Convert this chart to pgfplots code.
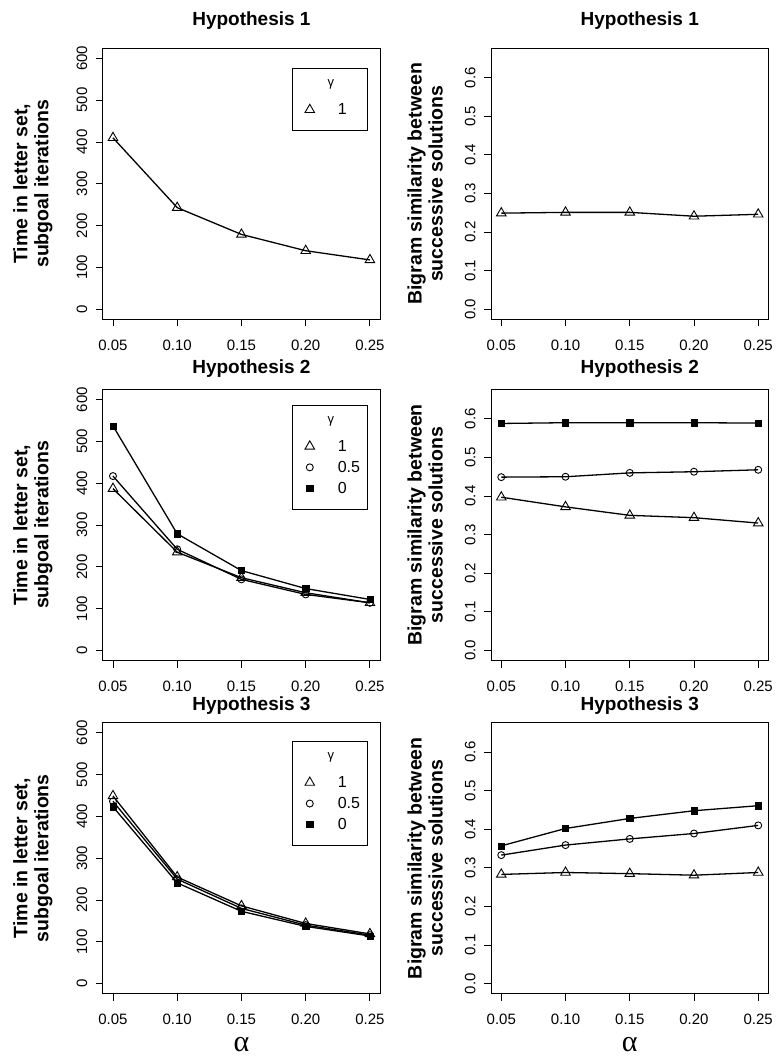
\documentclass[border=0pt]{standalone}
\usepackage{fontspec}
\setmainfont{Liberation Sans}
\newfontfamily\timesfont{Liberation Serif}
\usepackage{pgfplots}
\pgfplotsset{compat=1.18}

\tikzset{
  tri/.style={black, line width=1.3pt, mark=triangle, mark size=5.5pt, mark options={solid, line width=0.9pt}},
  circ/.style={black, line width=1.3pt, mark=o, mark size=3.5pt, mark options={solid, line width=0.9pt}},
  sq/.style={black, line width=1.3pt, mark=square*, mark size=3.1pt, mark options={solid, line width=0.4pt}},
}
\pgfplotsset{
  hyp/.style={
    scale only axis, width=277.5pt, height=271pt,
    xmin=0.042, xmax=0.258,
    xtick={0.05,0.10,0.15,0.20,0.25},
    xticklabels={0.05,0.10,0.15,0.20,0.25},
    tick align=outside, tick pos=left, major tick length=7pt,
    tick label style={font=\fontsize{15}{18}\selectfont},
    xticklabel style={yshift=-10pt},
    yticklabel style={xshift=-5pt, rotate=90, anchor=south},
    axis line style={line width=0.9pt},
    every tick/.style={black, line width=0.9pt},
    title style={font=\bfseries\fontsize{19}{22}\selectfont, anchor=base},
    ylabel style={font=\bfseries\fontsize{19.5}{21}\selectfont, align=center, anchor=center},
    xlabel style={font=\timesfont\fontsize{30}{30}\selectfont, anchor=center, at={(axis description cs:0.5,-0.187)}},
    legend cell align=left,
    legend style={draw=black, line width=0.8pt, inner xsep=0pt, inner ysep=0pt, row sep=0pt, column sep=0pt,
      anchor=north east, font=\fontsize{16}{18}\selectfont,
      nodes={draw=none, inner sep=0pt, text width=30pt}},
    legend image code/.code={\path[draw=none, fill=none] (0pt,-10.5pt) rectangle (45pt,10.5pt);
      \draw[##1, only marks] plot coordinates {(17pt,0pt)};},
  },
  hleft/.style={ymin=-24, ymax=624, ytick={0,100,200,300,400,500,600},
    yticklabels={0,100,200,300,400,500,600},
    ylabel={Time in letter set,\\subgoal iterations},
    ylabel style={at={(axis description cs:-0.252,0.5)}}},
  hright/.style={ymin=-0.026, ymax=0.676, ytick={0,0.1,0.2,0.3,0.4,0.5,0.6},
    yticklabels={0.0,0.1,0.2,0.3,0.4,0.5,0.6},
    ylabel={Bigram similarity between\\successive solutions},
    ylabel style={at={(axis description cs:-0.237,0.5)}}},
}
\newcommand{\legtitle}{%
  \addlegendimage{legend image code/.code={\path[draw=none, fill=none] (0pt,-15.5pt) rectangle (45pt,15pt);}}
  \addlegendentry{\llap{\makebox[14pt]{\fontsize{13}{13}\selectfont γ}}}}
\newcommand{\legpad}{%
  \addlegendimage{legend image code/.code={\path[draw=none, fill=none] (0pt,0pt) rectangle (45pt,-9.5pt);}}
  \addlegendentry{\rule{0pt}{0pt}}}

\begin{document}
\begin{tikzpicture}
\path[use as bounding box] (0,0) rectangle (777pt,-1059pt);

% row 1
\begin{axis}[hyp, hleft, at={(102.7pt,-48.3pt)}, anchor=north west,
  title={Hypothesis 1}, title style={at={(axis description cs:0.536,1.0635)}},
  legend style={at={(axis description cs:0.9567,0.926)}}]
\legtitle
\addplot[tri] coordinates {(0.05,410) (0.10,243) (0.15,179) (0.20,140) (0.25,118)};
\addlegendentry{1}
\legpad
\end{axis}

\begin{axis}[hyp, hright, at={(491pt,-48.3pt)}, anchor=north west,
  title={Hypothesis 1}, title style={at={(axis description cs:0.536,1.0635)}}]
\addplot[tri] coordinates {(0.05,0.249) (0.10,0.251) (0.15,0.251) (0.20,0.241) (0.25,0.246)};
\end{axis}

% row 2
\begin{axis}[hyp, hleft, at={(102.7pt,-389.5pt)}, anchor=north west,
  title={Hypothesis 2}, title style={at={(axis description cs:0.536,1.0358)}},
  legend style={at={(axis description cs:0.9567,0.943)}}]
\legtitle
\addplot[tri] coordinates {(0.05,387) (0.10,235) (0.15,174) (0.20,138) (0.25,114)};
\addlegendentry{1}
\addplot[circ] coordinates {(0.05,417) (0.10,242) (0.15,170) (0.20,134) (0.25,114)};
\addlegendentry{0.5}
\addplot[sq] coordinates {(0.05,537) (0.10,279) (0.15,191) (0.20,148) (0.25,122)};
\addlegendentry{0}
\legpad
\end{axis}

\begin{axis}[hyp, hright, at={(491pt,-389.5pt)}, anchor=north west,
  title={Hypothesis 2}, title style={at={(axis description cs:0.536,1.0358)}}]
\addplot[tri] coordinates {(0.05,0.397) (0.10,0.372) (0.15,0.350) (0.20,0.344) (0.25,0.330)};
\addplot[circ] coordinates {(0.05,0.449) (0.10,0.450) (0.15,0.460) (0.20,0.463) (0.25,0.468)};
\addplot[sq] coordinates {(0.05,0.588) (0.10,0.590) (0.15,0.590) (0.20,0.590) (0.25,0.589)};
\end{axis}

% row 3
\begin{axis}[hyp, hleft, at={(102.7pt,-722.7pt)}, anchor=north west,
  title={Hypothesis 3}, title style={at={(axis description cs:0.536,1.0229)}},
  legend style={at={(axis description cs:0.9567,0.932)}},
  xlabel={α}]
\legtitle
\addplot[tri] coordinates {(0.05,449) (0.10,255) (0.15,186) (0.20,144) (0.25,119)};
\addlegendentry{1}
\addplot[circ] coordinates {(0.05,436) (0.10,250) (0.15,180) (0.20,140) (0.25,116)};
\addlegendentry{0.5}
\addplot[sq] coordinates {(0.05,423) (0.10,241) (0.15,173) (0.20,137) (0.25,114)};
\addlegendentry{0}
\legpad
\end{axis}

\begin{axis}[hyp, hright, at={(491pt,-722.7pt)}, anchor=north west,
  title={Hypothesis 3}, title style={at={(axis description cs:0.536,1.0229)}},
  xlabel={α}]
\addplot[tri] coordinates {(0.05,0.283) (0.10,0.288) (0.15,0.285) (0.20,0.281) (0.25,0.288)};
\addplot[circ] coordinates {(0.05,0.333) (0.10,0.359) (0.15,0.375) (0.20,0.389) (0.25,0.410)};
\addplot[sq] coordinates {(0.05,0.357) (0.10,0.402) (0.15,0.428) (0.20,0.448) (0.25,0.461)};
\end{axis}
\end{tikzpicture}
\end{document}
